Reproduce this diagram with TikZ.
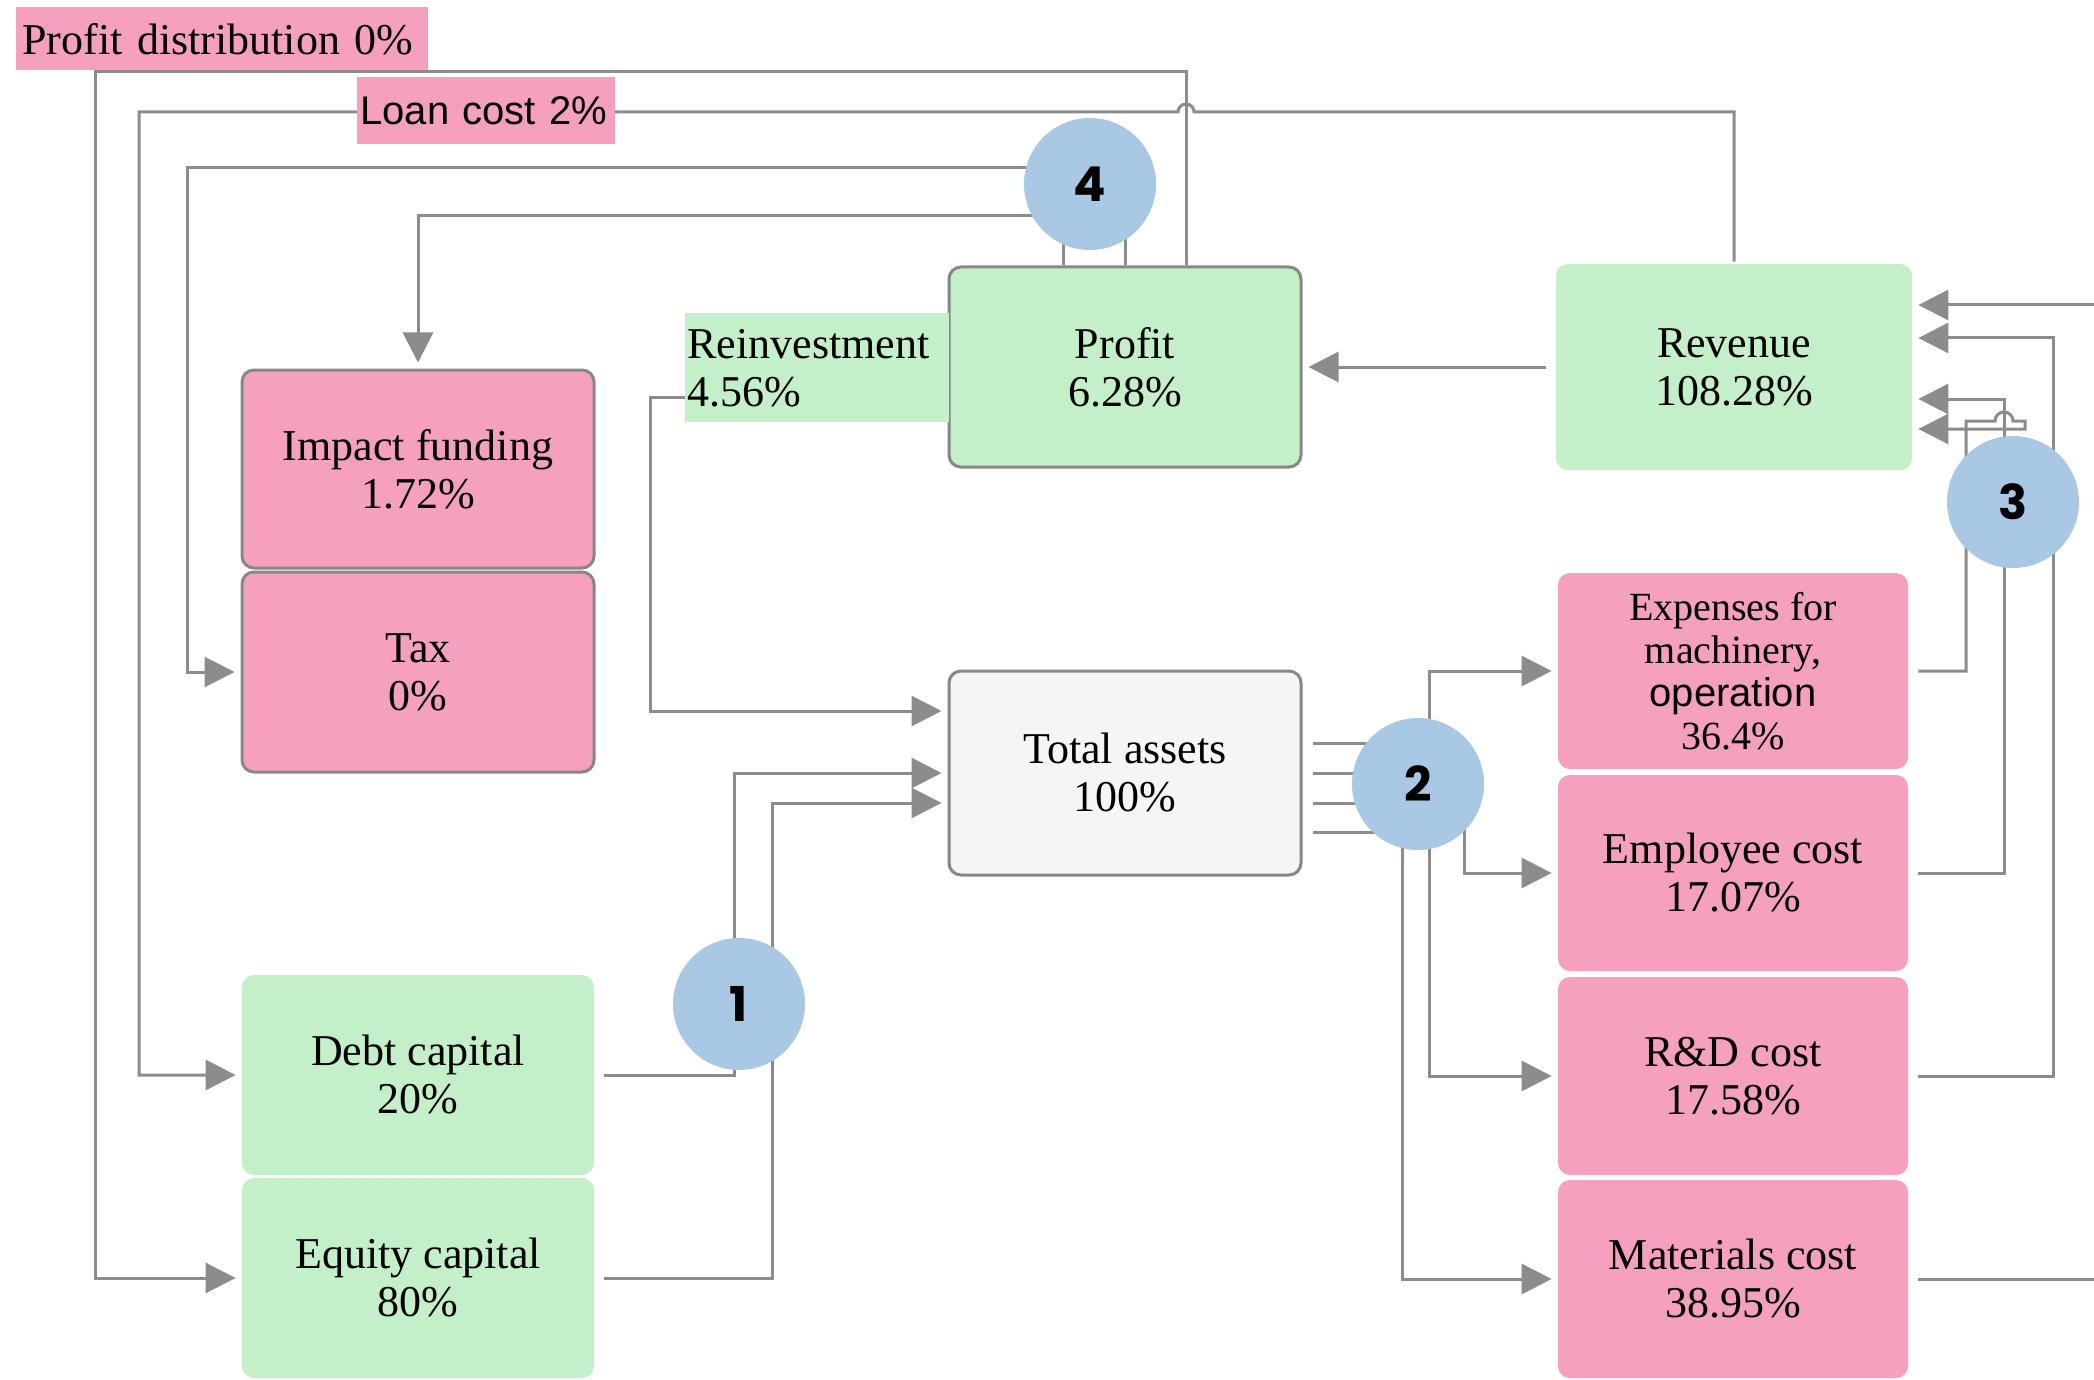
\documentclass[tikz,border=0pt]{standalone}
\usepackage{fontspec}
\setmainfont{Liberation Serif}
\newfontfamily\labelsans{Liberation Sans}
\newfontfamily\numfont{Poppins}
\usetikzlibrary{arrows.meta}

\definecolor{boxgreen}{RGB}{195,240,200}
\definecolor{boxpink}{RGB}{245,160,190}
\definecolor{boxgrey}{RGB}{245,245,245}
\definecolor{stepblue}{RGB}{168,200,228}
\definecolor{wire}{RGB}{140,140,140}
\definecolor{edgegrey}{RGB}{135,135,135}

\tikzset{
    box/.style={rounded corners=6pt, minimum width=176pt, minimum height=100pt,
        align=center, inner sep=0pt, font=\fontsize{22}{24}\selectfont},
    greenbox/.style={box, fill=boxgreen},
    pinkbox/.style={box, fill=boxpink},
    framed/.style={draw=edgegrey, line width=1.5pt},
    tag/.style={anchor=north west, inner ysep=0pt, align=left},
    badge/.style={circle, fill=stepblue, minimum size=66pt, inner sep=0pt,
        font=\numfont\bfseries\fontsize{24}{24}\selectfont},
    flow/.style={draw=wire, line width=1.5pt, shorten <=5pt},
    arrowed/.style={flow, shorten >=3pt, -{Triangle[length=15pt,width=15pt]}},
}

\begin{document}
\begin{tikzpicture}[x=0.5pt, y=-0.5pt]
    \useasboundingbox (0,0) rectangle (2094,1380);
    \fill[white] (0,0) rectangle (2094,1380);

    \node[greenbox, framed] (profit) at (1125,367) {Profit\\6.28\%};
    \node[greenbox, minimum width=178pt, minimum height=103pt] (revenue) at (1734,367) {Revenue\\108.28\%};
    \node[pinkbox, framed, minimum height=99pt] (impact) at (418,469) {Impact funding\\1.72\%};
    \node[pinkbox, framed] (tax) at (418,672) {Tax\\0\%};
    \node[box, fill=boxgrey, framed, minimum height=102pt] (assets) at (1125,773) {Total assets\\100\%};
    \node[pinkbox, minimum width=175pt, minimum height=98pt, font=\fontsize{20}{21.5}\selectfont]
        (machinery) at (1733,671) {Expenses for\\machinery,\\{\labelsans operation}\\36.4\%};
    \node[pinkbox, minimum width=175pt, minimum height=98pt] (employee) at (1733,873) {Employee cost\\17.07\%};
    \node[pinkbox, minimum width=175pt, minimum height=99pt] (research) at (1733,1076) {R\&D cost\\17.58\%};
    \node[pinkbox, minimum width=175pt, minimum height=99pt] (materials) at (1733,1279) {Materials cost\\38.95\%};
    \node[greenbox] (debt) at (418,1075) {Debt capital\\20\%};
    \node[greenbox] (equity) at (418,1278) {Equity capital\\80\%};

    \draw[arrowed] (debt.east) -| (734,773) -- (assets.west);
    \draw[arrowed] (equity.east) -| (772,803) -- (assets.west |- 0,803);
    \draw[arrowed] (profit.west |- 0,397) -- (650,397) |- (assets.west |- 0,711);
    \draw[arrowed] (revenue.west) -- (profit.east);

    \draw[arrowed, shorten <=0pt] (profit.north -| 1063,0) |- (impact.north |- 0,216) -- (impact.north);
    \draw[arrowed, shorten <=0pt] (profit.north -| 1125,0) |- (187,168) |- (tax.west);
    \draw[arrowed, shorten <=0pt] (profit.north -| 1186,0) |- (95,72) |- (equity.west);
    \draw[arrowed, shorten <=1pt] (revenue.north) |- (1194,112)
        arc[start angle=0, end angle=180, radius=4pt] -- (139,112) |- (debt.west);

    \draw[arrowed] (assets.east |- 0,743) -| (1429,671) -- (machinery.west);
    \draw[arrowed] (assets.east |- 0,773) -| (1464,873) -- (employee.west);
    \draw[arrowed] (assets.east |- 0,803) -| (1429,1076) -- (research.west);
    \draw[arrowed] (assets.east |- 0,832) -| (1402,1279) -- (materials.west);

    \draw[arrowed] (machinery.east) -| (1966,421) -- (1995,421)
        arc[start angle=180, end angle=0, radius=4.5pt] -- (2025,421) |- (revenue.east |- 0,429);
    \draw[arrowed] (employee.east) -| (2004,399) -- (revenue.east |- 0,399);
    \draw[arrowed] (research.east) -| (2053,338) -- (revenue.east |- 0,338);
    \draw[arrowed] (materials.east) -| (2110,305) -- (revenue.east |- 0,305);

    \node[tag, fill=boxpink, text width=200pt, inner xsep=3pt, minimum height=31.5pt,
        font=\fontsize{22}{24}\selectfont] (distlabel) at (16,7) {Profit distribution 0\%};
    \node[tag, fill=boxpink, text width=126pt, inner xsep=1.5pt, minimum height=33.5pt,
        font=\labelsans\fontsize{20}{22}\selectfont] (loanlabel) at (357,77) {Loan cost 2\%};
    \node[tag, fill=boxgreen, text width=130pt, inner xsep=1pt, minimum height=54.5pt,
        font=\fontsize{22}{24}\selectfont] (reinvestlabel) at (685,313) {Reinvestment\\4.56\%};

    \node[badge] (one) at (739,1004) {1};
    \node[badge] (two) at (1418,784) {2};
    \node[badge] (three) at (2013,502) {3};
    \node[badge] (four) at (1090,184) {4};
\end{tikzpicture}
\end{document}
